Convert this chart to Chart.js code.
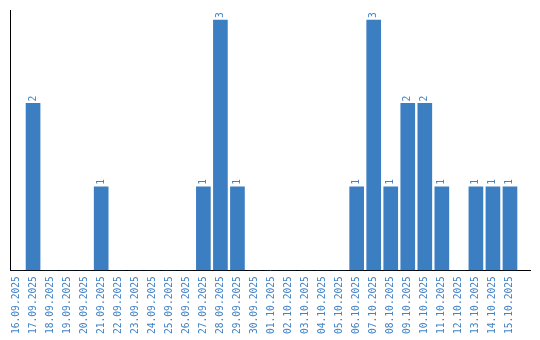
<!DOCTYPE html>
<html lang="en">

<head>
    <meta charset="UTF-8">
    <script src="https://cdn.jsdelivr.net/npm/chart.js@4.4.1/dist/chart.umd.min.js"></script>
    <title>Chart</title>
    <style>
        body { margin: 0; background: #fff; }
    </style>
</head>

<body>
    <canvas id="myChart" width="540" height="340"></canvas>

    <script>
        const days = ['16.09.2025', '17.09.2025', '18.09.2025', '19.09.2025', '20.09.2025', '21.09.2025',
            '22.09.2025', '23.09.2025', '24.09.2025', '25.09.2025', '26.09.2025', '27.09.2025',
            '28.09.2025', '29.09.2025', '30.09.2025', '01.10.2025', '02.10.2025', '03.10.2025',
            '04.10.2025', '05.10.2025', '06.10.2025', '07.10.2025', '08.10.2025', '09.10.2025',
            '10.10.2025', '11.10.2025', '12.10.2025', '13.10.2025', '14.10.2025', '15.10.2025'];
        const counts = [0, 2, 0, 0, 0, 1, 0, 0, 0, 0, 0, 1, 3, 1, 0, 0, 0, 0, 0, 0,
            1, 3, 1, 2, 2, 1, 0, 1, 1, 1];

        const blue = '#3b7ec2';
        const textBlue = '#4183c6';
        const monoFont = { family: '"DejaVu Sans Mono", "Liberation Mono", monospace', size: 9.6 };

        // value labels, rotated, just above each bar
        const barValues = {
            id: 'barValues',
            afterDatasetsDraw(chart) {
                const ctx = chart.ctx;
                const meta = chart.getDatasetMeta(0);
                ctx.save();
                ctx.fillStyle = textBlue;
                ctx.font = monoFont.size + 'px ' + monoFont.family;
                ctx.textAlign = 'left';
                ctx.textBaseline = 'middle';
                meta.data.forEach((bar, i) => {
                    if (!counts[i]) return;
                    ctx.save();
                    ctx.translate(bar.x, bar.y - 2);
                    ctx.rotate(-Math.PI / 2);
                    ctx.fillText(String(counts[i]), 0, 0);
                    ctx.restore();
                });
                ctx.restore();
            }
        };

        new Chart(document.getElementById('myChart'), {
            type: 'bar',
            data: {
                datasets: [{
                    data: counts.map((v, i) => ({ x: i, y: v })),
                    backgroundColor: blue,
                    borderWidth: 0,
                    barThickness: 14
                }]
            },
            options: {
                responsive: false,
                animation: false,
                layout: { padding: { top: 10, right: 10, left: 10, bottom: 0 } },
                plugins: { legend: { display: false }, tooltip: { enabled: false } },
                scales: {
                    x: {
                        type: 'linear',
                        offset: false,
                        min: -0.353,
                        max: 30.176,
                        afterBuildTicks: scale => {
                            scale.ticks = days.map((_, i) => ({ value: i }));
                        },
                        ticks: {
                            autoSkip: false,
                            minRotation: 90,
                            maxRotation: 90,
                            color: textBlue,
                            font: monoFont,
                            padding: 6,
                            callback: v => days[v]
                        },
                        grid: { display: false, drawTicks: false },
                        border: { display: true, color: '#000', width: 1 }
                    },
                    y: {
                        min: 0,
                        max: 3.12,
                        ticks: { display: false },
                        grid: { display: false, drawTicks: false },
                        border: { display: true, color: '#000', width: 1 }
                    }
                }
            },
            plugins: [barValues]
        });
    </script>
</body>

</html>
